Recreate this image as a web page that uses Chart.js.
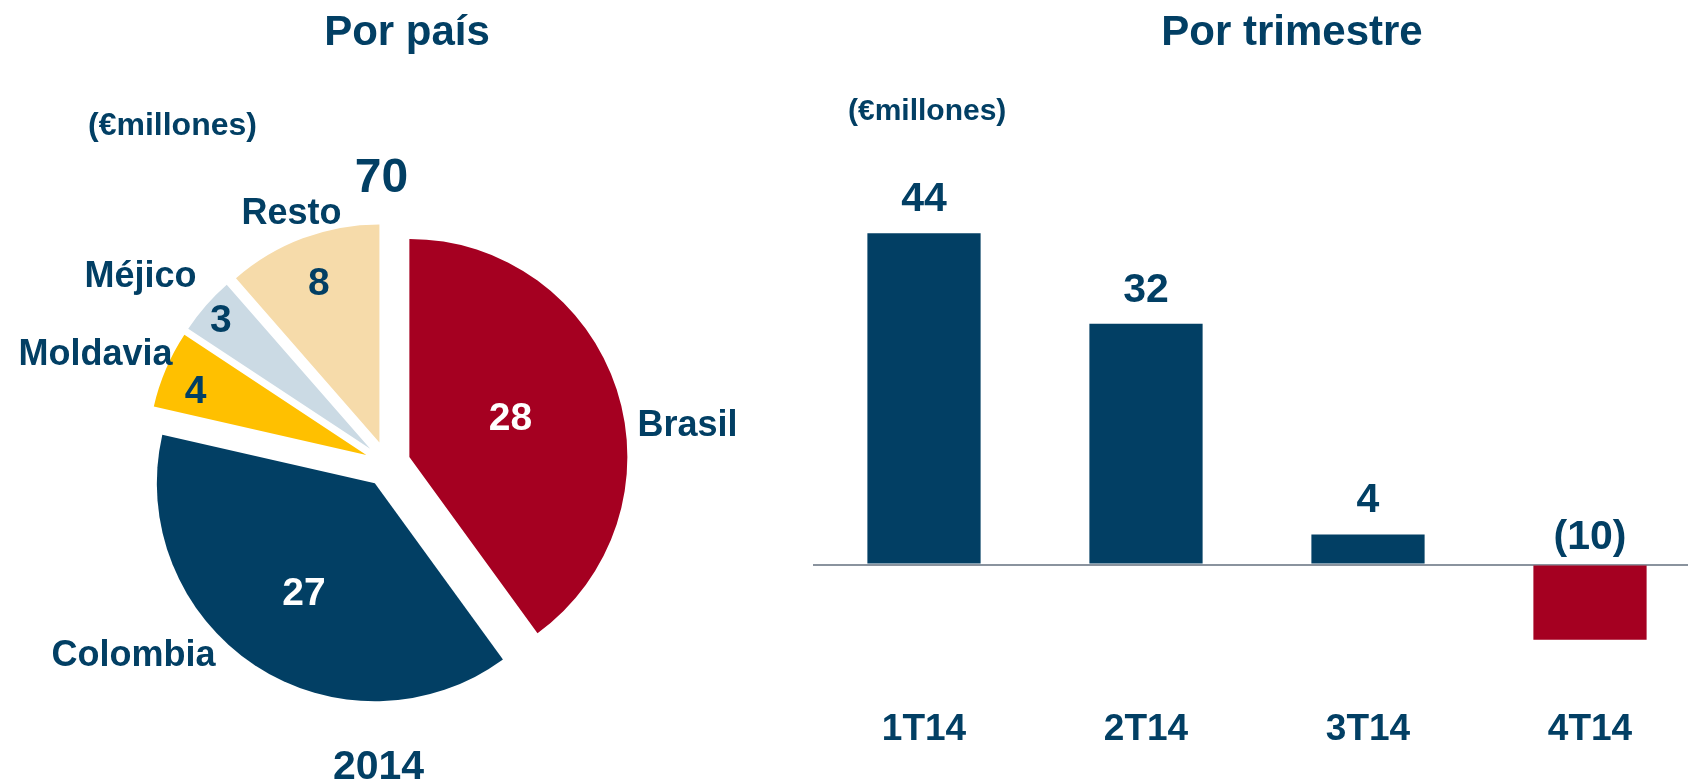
<!DOCTYPE html>
<html lang="es">
<head>
<meta charset="utf-8">
<title>Por país / Por trimestre</title>
<script src="https://cdn.jsdelivr.net/npm/chart.js@4.4.1/dist/chart.umd.min.js"></script>
<style>
  html, body { margin: 0; padding: 0; background: #fff; overflow: hidden; width: 1688px; height: 784px; }
  #pieChart { position: absolute; left: 0; top: 0; }
  #barChart { position: absolute; left: 800px; top: 0; }
</style>
</head>
<body>
<canvas id="pieChart" width="800" height="784"></canvas>
<canvas id="barChart" width="910" height="784"></canvas>
<script>
// Data
const countries = ['Brasil', 'Colombia', 'Moldavia', 'Méjico', 'Resto'];
const countryValues = [28, 27, 4, 3, 8];
const pieYear = '2014';
const quarters = ['1T14', '2T14', '3T14', '4T14'];
const quarterValues = [44, 32, 4, -10];
const unitLabel = '(€millones)';

const NAVY = '#023F64';
const RED = '#A50021';
const FONT = '"Liberation Sans", Arial, sans-serif';
const sliceColors = [RED, NAVY, '#FFC000', '#CBDAE4', '#F6DBAA'];
const sliceTextColors = ['#ffffff', '#ffffff', NAVY, NAVY, NAVY];
const sliceLabelRadius = [0.50, 0.59, 0.84, 0.91, 0.79];
const sliceLabelTurn = [-4, 0, -2, 0, 0]; // degrees off the mid angle
// where the country names sit, relative to the pie centre (baseline)
const nameOffsets = [[300, -28], [-254, 202], [-292, -99], [-247, -177], [-96, -240]];
const EXPLODE = 23;

function font(size) {
    return 'bold ' + size + 'px ' + FONT;
}

// push every slice out along its mid angle
const explodeSlices = {
    id: 'explodeSlices',
    afterDatasetUpdate(chart, args) {
        args.meta.data.forEach(arc => {
            const mid = (arc.startAngle + arc.endAngle) / 2;
            arc.x += Math.cos(mid) * EXPLODE;
            arc.y += Math.sin(mid) * EXPLODE;
        });
    }
};

const pieLabels = {
    id: 'pieLabels',
    afterDraw(chart) {
        const {ctx, chartArea} = chart;
        const cx = (chartArea.left + chartArea.right) / 2;
        const cy = (chartArea.top + chartArea.bottom) / 2;
        const total = countryValues.reduce((a, b) => a + b, 0);
        ctx.save();
        ctx.textAlign = 'center';
        ctx.textBaseline = 'alphabetic';
        ctx.fillStyle = NAVY;

        ctx.font = font(42);
        ctx.fillText('Por país', 407, 45);

        ctx.textAlign = 'left';
        ctx.font = font(32);
        ctx.fillText(unitLabel, 88, 135);

        ctx.textAlign = 'center';
        ctx.font = font(48);
        ctx.fillText(String(total), cx - 6, cy - 272);

        ctx.font = font(41);
        ctx.fillText(pieYear, cx - 9, cy + 315);

        ctx.font = font(36);
        countries.forEach((name, i) => {
            ctx.fillText(name, cx + nameOffsets[i][0], cy + nameOffsets[i][1]);
        });

        ctx.font = font(39);
        chart.getDatasetMeta(0).data.forEach((arc, i) => {
            const mid = (arc.startAngle + arc.endAngle) / 2 + sliceLabelTurn[i] * Math.PI / 180;
            const r = arc.outerRadius * sliceLabelRadius[i];
            const x = arc.x + Math.cos(mid) * r;
            const y = arc.y + Math.sin(mid) * r;
            ctx.fillStyle = sliceTextColors[i];
            ctx.fillText(String(countryValues[i]), x, y + 14);
        });
        ctx.restore();
    }
};

new Chart(document.getElementById('pieChart'), {
    type: 'pie',
    data: {
        labels: countries,
        datasets: [{
            data: countryValues,
            backgroundColor: sliceColors,
            borderWidth: 0
        }]
    },
    options: {
        responsive: false,
        animation: false,
        events: [],
        radius: 218,
        layout: { padding: { left: 137.5, right: 162.5, top: 214, bottom: 70 } },
        plugins: {
            legend: { display: false },
            tooltip: { enabled: false }
        }
    },
    plugins: [explodeSlices, pieLabels]
});

const barLabels = {
    id: 'barLabels',
    afterDraw(chart) {
        const {ctx} = chart;
        const zeroY = chart.scales.y.getPixelForValue(0);
        ctx.save();
        ctx.fillStyle = NAVY;
        ctx.textBaseline = 'alphabetic';

        ctx.textAlign = 'center';
        ctx.font = font(42);
        ctx.fillText('Por trimestre', 492, 45);

        ctx.textAlign = 'left';
        ctx.font = font(30);
        ctx.fillText(unitLabel, 48, 120);

        ctx.textAlign = 'center';
        ctx.font = font(41);
        chart.getDatasetMeta(0).data.forEach((bar, i) => {
            const v = quarterValues[i];
            const text = v < 0 ? '(' + Math.abs(v) + ')' : String(v);
            const y = v < 0 ? zeroY - 16 : bar.y - 22;
            ctx.fillText(text, bar.x, y);
        });
        ctx.restore();
    }
};

new Chart(document.getElementById('barChart'), {
    type: 'bar',
    data: {
        labels: quarters,
        datasets: [{
            data: quarterValues,
            backgroundColor: quarterValues.map(v => v < 0 ? RED : NAVY),
            borderWidth: 0,
            categoryPercentage: 1,
            barPercentage: 0.51
        }]
    },
    options: {
        responsive: false,
        animation: false,
        events: [],
        layout: { padding: { left: 13, right: 9, top: 128, bottom: 24 } },
        plugins: {
            legend: { display: false },
            tooltip: { enabled: false }
        },
        scales: {
            x: {
                grid: { display: false, drawTicks: false },
                border: { display: false },
                ticks: {
                    color: NAVY,
                    font: { family: FONT, size: 37, weight: 'bold' },
                    padding: 8
                },
                afterFit(axis) { axis.height = 60; }
            },
            y: {
                min: -18,
                max: 58,
                grid: { color: '#8A939E', lineWidth: 2, drawTicks: false },
                border: { display: false },
                ticks: { display: false },
                afterBuildTicks(axis) { axis.ticks = [{ value: 0 }]; }
            }
        }
    },
    plugins: [barLabels]
});
</script>
</body>
</html>
